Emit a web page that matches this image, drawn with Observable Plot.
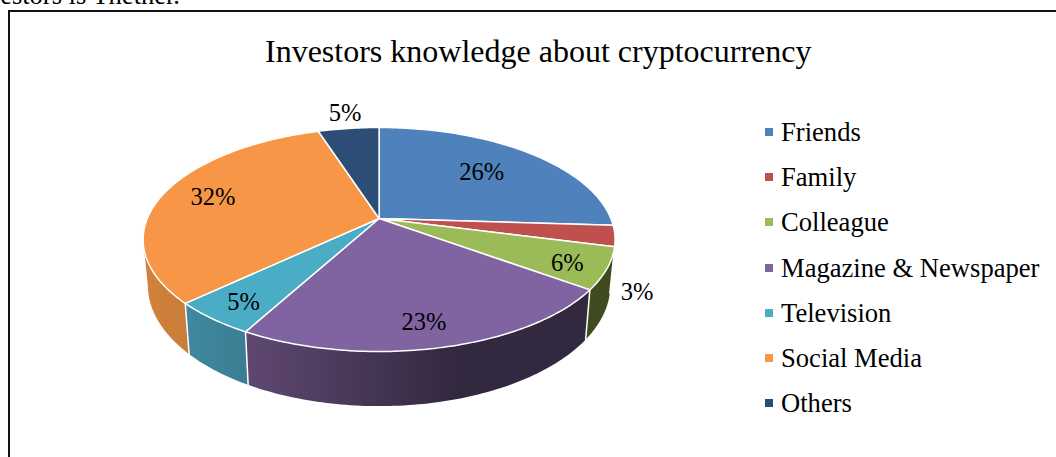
<!DOCTYPE html>
<html>
<head>
<meta charset="utf-8">
<script src="https://cdn.jsdelivr.net/npm/d3@7"></script>
<script src="https://cdn.jsdelivr.net/npm/@observablehq/plot@0.6"></script>
<style>
  html, body { margin: 0; padding: 0; background: #fff; }
  #page { position: relative; width: 1056px; height: 457px; overflow: hidden; font-family: "Liberation Serif", serif; color: #000; }
  #page svg { position: absolute; left: 0; top: 0; background: transparent; }
  #frame { position: absolute; left: 7.5px; top: 10px; width: 1100px; height: 500px; border: 2px solid #111; box-sizing: border-box; }
  #lead { position: absolute; right: 876px; top: -20px; font-size: 26.5px; line-height: 30px; white-space: nowrap; }
  #title { position: absolute; left: 265px; top: 32px; font-size: 32px; line-height: 38px; white-space: nowrap; }
  .lg { position: absolute; left: 781px; font-size: 26.6px; line-height: 30px; white-space: nowrap; }
  .sw { position: absolute; left: 765px; width: 8px; height: 8px; }
</style>
</head>
<body>
<div id="page">
  <div id="frame"></div>
  <div id="lead">estors is Thether.</div>
  <div id="title">Investors knowledge about cryptocurrency</div>
</div>
<script>
const categories = ["Friends", "Family", "Colleague", "Magazine & Newspaper", "Television", "Social Media", "Others"];
const shares = [26, 3, 6, 23, 5, 32, 5];
const colors = ["#4f81bd", "#c0504d", "#9bbb59", "#8064a2", "#4bacc6", "#f79646", "#2c4d75"];
const wallStops = [
  ["#3f7f97", "#3f7f97"], ["#8c3a38", "#8c3a38"], ["#3e4c20", "#3e4c20"],
  ["#604871", "#32283f"], ["#40899f", "#3a7d92"], ["#d28239", "#c97d3b"], ["#1f3a5c", "#1f3a5c"]
];
// label placement: radius along the slice's middle angle plus a nudge in pixels
const labelLayout = [
  {r: .68, dx: -3, dy: 0}, {r: 1, dx: 22, dy: 56}, {r: .8, dx: 9, dy: 5},
  {r: .82, dx: -4, dy: 2}, {r: .9, dx: 12, dy: -5}, {r: .7, dx: -14, dy: -3}, {r: 1.1, dx: -1, dy: -8}
];

// perspective of the tilted disc
const k = 0.1875;
const project = (r, deg) => {
  const a = deg * Math.PI / 180, u = r * Math.sin(a), v = -r * Math.cos(a);
  return {x: u / (1 - k * v), y: v / (1 - k * v)};
};
const lower = (p) => ({x: p.x * 0.98, y: p.y * 1.08 + 0.407});
const arcDegs = (a, b) => { const n = Math.max(2, Math.ceil(b - a)); return d3.range(n + 1).map(i => a + (b - a) * i / n); };

const arcs = d3.pie().sort(null).value(d => d)(shares).map((s, i) => ({
  i, a: s.startAngle * 180 / Math.PI, b: s.endAngle * 180 / Math.PI
}));

const faces = arcs.map(s => {
  const rim = arcDegs(s.a, s.b).map(d => project(1, d));
  return [{x: 0, y: 0}, ...rim, {x: 0, y: 0}];
});

const visFrom = 100.8, visTo = 259.2;
const walls = arcs.map(s => {
  const a = Math.max(s.a, visFrom), b = Math.min(s.b, visTo);
  if (b <= a) return null;
  const top = arcDegs(a, b).map(d => project(1, d));
  const bot = top.map(lower).reverse();
  return [...top, ...bot, top[0]];
});

const dividers = arcs.filter(s => s.b > visFrom && s.b < visTo).map(s => {
  const p = project(1, s.b);
  return [p, lower(p)];
});

const labels = arcs.map(s => {
  const l = labelLayout[s.i], p = project(l.r, (s.a + s.b) / 2);
  return {x: p.x, y: p.y, text: shares[s.i] + "%", dx: l.dx, dy: l.dy};
});

const defs = () => {
  const d = d3.create("svg:defs");
  wallStops.forEach((st, i) => {
    const g = d.append("linearGradient").attr("id", "wall" + i).attr("x1", 0).attr("x2", 1).attr("y1", 0).attr("y2", 0);
    g.append("stop").attr("offset", 0).attr("stop-color", st[0]);
    g.append("stop").attr("offset", i === 3 ? 0.62 : 1).attr("stop-color", st[1]);
    g.append("stop").attr("offset", 1).attr("stop-color", st[1]);
  });
  return d.node();
};

const fontFamily = "Liberation Serif";
const chart = Plot.plot({
  width: 1056, height: 457,
  marginLeft: 0, marginRight: 0, marginTop: 0, marginBottom: 0,
  x: {type: "linear", domain: [-1, 1], range: [378.6 - 231.8, 378.6 + 231.8], axis: null},
  y: {type: "linear", domain: [-1, 1], range: [218 - 108.06, 218 + 108.06], axis: null},
  marks: [
    defs,
    ...walls.map((w, i) => w && Plot.line(w, {x: "x", y: "y", fill: `url(#wall${i})`, stroke: "none", curve: "linear"})),
    ...dividers.map(d => Plot.line(d, {x: "x", y: "y", stroke: "white", strokeWidth: 1.5, curve: "linear"})),
    ...faces.map((f, i) => Plot.line(f, {x: "x", y: "y", fill: colors[i], stroke: "white", strokeWidth: 1.5, strokeLinejoin: "round", curve: "linear"})),
    ...labels.map(l => Plot.text([l], {x: "x", y: "y", text: "text", dx: l.dx, dy: l.dy, fontSize: 24.5, fontFamily, fill: "black"}))
  ]
});
const page = document.getElementById("page");
page.insertBefore(chart, page.firstChild);

categories.forEach((c, i) => {
  const cy = 132 + i * 45.2;
  const sw = document.createElement("div");
  sw.className = "sw"; sw.style.top = (cy - 4) + "px"; sw.style.background = colors[i];
  page.appendChild(sw);
  const t = document.createElement("div");
  t.className = "lg"; t.style.top = (cy - 15) + "px"; t.textContent = c;
  page.appendChild(t);
});
</script>
</body>
</html>
